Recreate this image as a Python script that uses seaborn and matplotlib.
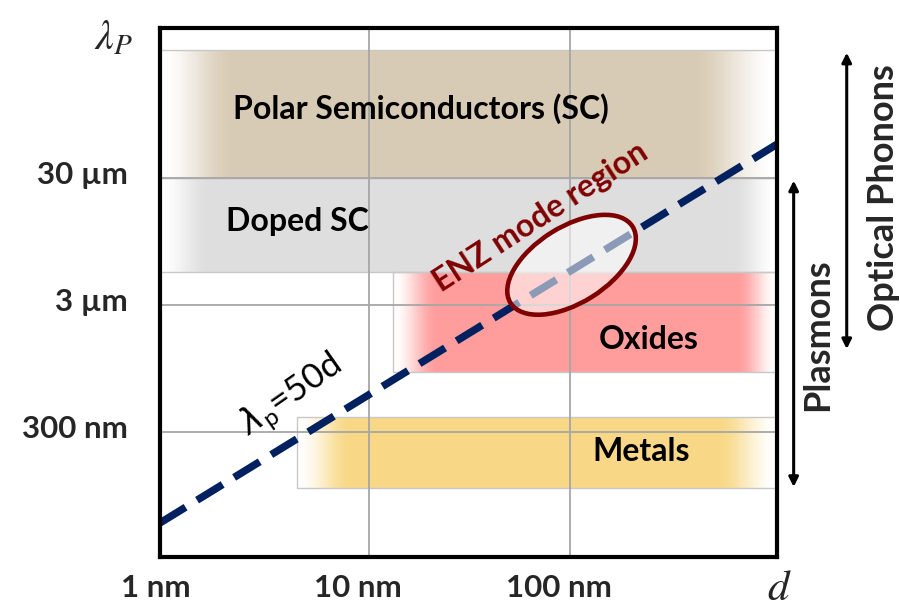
import numpy as np
import matplotlib
matplotlib.use("Agg")
import matplotlib.pyplot as plt
import seaborn as sns
import pandas as pd
from matplotlib.patches import Ellipse
from matplotlib import transforms
from matplotlib.colors import LinearSegmentedColormap
from matplotlib.ticker import FixedLocator, NullLocator, FixedFormatter

# ---------------- data ----------------
band_names = ["Polar Semiconductors (SC)", "Doped SC", "Oxides", "Metals"]
band_d_min = [0.92, 0.92, 13.2, 4.4]          # nm
band_d_max = [1070, 1070, 1070, 1070]         # nm
band_lam_min = [30000, 5460, 890, 109]        # nm
band_lam_max = [305000, 30000, 5400, 394]     # nm
band_colors = ["#d8cbb5", "#dedede", "#ff9d9d", "#f8d886"]

line_d = [0.92, 1070]          # nm
line_lam = [57.5, 55200]       # nm  (lambda_p = 50 d)

x_ticks = [1, 10, 100]
x_ticklabels = ["1 nm", "10 nm", "100 nm"]
y_ticks = [300, 3000, 30000]
y_ticklabels = ["300 nm", "3 µm", "30 µm"]

# ---------------- style ----------------
sns.set_theme(style="white")
plt.rcParams["font.family"] = ["Lato", "DejaVu Sans"]

W, H = 900, 607
fig = plt.figure(figsize=(W / 100, H / 100), dpi=100)
ax = fig.add_axes([160 / W, 1 - 557 / H, (777 - 160) / W, (557 - 28) / H])
ax.set_xscale("log")
ax.set_yscale("log")
ax.set_xlim(0.92, 1070)
ax.set_ylim(31, 454000)

# fade widths (pixels) for band gradients
fade_left_px = [75, 50, 45, 55]
fade_right_px = [85, 45, 40, 60]
px_per_dec = 201.0


def smooth(t):
    t = np.clip(t, 0, 1)
    return t * t * (3 - 2 * t)


for i, name in enumerate(band_names):
    x0, x1 = band_d_min[i], band_d_max[i]
    y0, y1 = band_lam_min[i], band_lam_max[i]
    xe = np.geomspace(x0, x1, 500)
    lx = np.log10(xe)
    xc = 0.5 * (lx[:-1] + lx[1:])
    fl = fade_left_px[i] / px_per_dec
    fr = fade_right_px[i] / px_per_dec
    a = np.minimum(smooth((xc - lx[0]) / fl), smooth((lx[-1] - xc) / fr))
    cmap = LinearSegmentedColormap.from_list("b%d" % i, ["#ffffff", band_colors[i]])
    ye = np.array([y0, y1])
    ax.pcolormesh(xe, ye, a[None, :], cmap=cmap, vmin=0, vmax=1,
                  shading="flat", edgecolors="none", linewidth=0,
                  antialiased=False, zorder=1)
    # thin grey outline of band
    ax.plot([x1, x0, x0, x1], [y1, y1, y0, y0], color="#c8c8c8", lw=1.0, zorder=1.5)

# grid lines
for xv in x_ticks[1:]:
    ax.axvline(xv, color="#a6a6a6", lw=1.3, zorder=2)
for yv in y_ticks:
    ax.axhline(yv, color="#a6a6a6", lw=1.3, zorder=2)

# dashed line lambda_p = 50 d
df_line = pd.DataFrame({"d": line_d, "lam": line_lam})
sns.lineplot(data=df_line, x="d", y="lam", ax=ax, color="#002060",
             linewidth=5.4, zorder=3)
ln = ax.lines[-1]
ln.set_dashes((4.0, 1.8))
ln.set_dash_capstyle("butt")
ln.set_clip_on(False)
ax.set_xlabel("")
ax.set_ylabel("")

# ENZ ellipse (drawn in pixel units around a data point)
ell_tr = fig.dpi_scale_trans + transforms.ScaledTranslation(102, 6200, ax.transData)
ell = Ellipse((0, 0), 1.44, 0.76, angle=32, transform=ell_tr,
              facecolor=(1, 1, 1, 0.55), edgecolor="#7f0000", linewidth=3.3, zorder=4)
ax.add_patch(ell)

# band labels
lab_font = dict(fontsize=23, fontweight="bold", color="black", ha="center", va="center", zorder=5)
ax.text(18.1, 106000, band_names[0], **lab_font)
ax.text(4.43, 13500, band_names[1], **lab_font)
ax.text(247, 1590, band_names[2], **lab_font)
ax.text(225, 209, band_names[3], **lab_font)

ax.text(71.8, 14700, "ENZ mode region", fontsize=23, fontweight="bold", color="#800000",
        rotation=33, ha="center", va="center", rotation_mode="anchor", zorder=5)
ax.text(4.1, 570, r"$\lambda_\mathregular{p}$=50d", fontsize=25, color="black",
        rotation=35, ha="center", va="center", rotation_mode="anchor", zorder=5,
        math_fontfamily="dejavusans")

# ticks
ax.xaxis.set_major_locator(FixedLocator(x_ticks))
ax.xaxis.set_major_formatter(FixedFormatter(x_ticklabels))
ax.xaxis.set_minor_locator(NullLocator())
ax.yaxis.set_major_locator(FixedLocator(y_ticks))
ax.yaxis.set_major_formatter(FixedFormatter(y_ticklabels))
ax.yaxis.set_minor_locator(NullLocator())
ax.tick_params(axis="both", which="both", length=0, labelsize=22.5)
ax.tick_params(axis="x", pad=12)
ax.tick_params(axis="y", pad=23)
for t in ax.get_xticklabels():
    t.set_fontweight("bold")
    t.set_transform(t.get_transform() + transforms.ScaledTranslation(-11 / 100, 0, fig.dpi_scale_trans))
for t in ax.get_yticklabels():
    t.set_fontweight("bold")
    t.set_transform(t.get_transform() + transforms.ScaledTranslation(0, 5 / 100, fig.dpi_scale_trans))

for s in ax.spines.values():
    s.set_visible(True)
    s.set_color("black")
    s.set_linewidth(3.0)
    s.set_zorder(6)

# axis symbols
fig.text(114 / W, 1 - 38 / H, r"$\lambda_P$", fontsize=30, ha="center", va="center",
         math_fontfamily="stix")
fig.text(779 / W, 1 - 588 / H, r"$d$", fontsize=31, ha="center", va="center",
         math_fontfamily="stix")

# right-hand arrows
blend = transforms.blended_transform_factory(ax.transAxes, ax.transData)
ax.annotate("", xy=(1.113, 305000), xytext=(1.113, 1280), xycoords=blend, textcoords=blend,
            arrowprops=dict(arrowstyle="<|-|>", color="black", lw=2.2, mutation_scale=14),
            annotation_clip=False)
ax.annotate("", xy=(1.027, 30000), xytext=(1.027, 105), xycoords=blend, textcoords=blend,
            arrowprops=dict(arrowstyle="<|-|>", color="black", lw=2.2, mutation_scale=14),
            annotation_clip=False)
fig.text(884 / W, 1 - 198 / H, "Optical Phonons", rotation=90, fontsize=26, fontweight="bold",
         ha="center", va="center")
fig.text(818 / W, 1 - 335 / H, "Plasmons", rotation=90, fontsize=26, fontweight="bold",
         ha="center", va="center")

fig.savefig("out.png", dpi=100)
